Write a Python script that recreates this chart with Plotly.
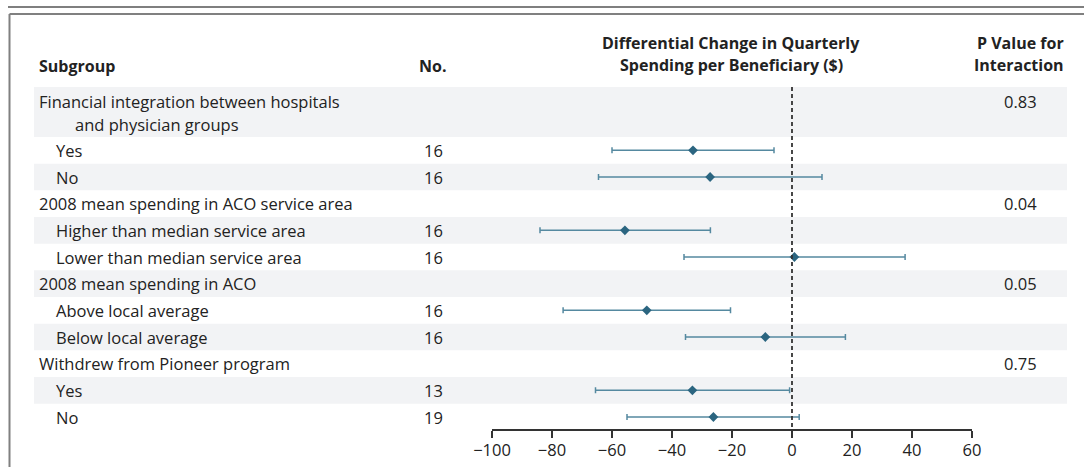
import plotly.graph_objects as go

# ---------------- data ----------------
row_labels = [
    "Financial integration between hospitals<br>    and physician groups",
    "Yes", "No",
    "2008 mean spending in ACO service area",
    "Higher than median service area", "Lower than median service area",
    "2008 mean spending in ACO",
    "Above local average", "Below local average",
    "Withdrew from Pioneer program",
    "Yes", "No",
]
row_is_header = [True, False, False, True, False, False, True, False, False, True, False, False]
row_n = ["", "16", "16", "", "16", "16", "", "16", "16", "", "13", "19"]
row_p = ["0.83", "", "", "0.04", "", "", "0.05", "", "", "0.75", "", ""]
estimate = [None, -33, -27.3, None, -55.7, 0.8, None, -48.4, -8.9, None, -33.2, -26.2]
ci_low = [None, -60, -64.5, None, -84, -36, None, -76.3, -35.5, None, -65.5, -55]
ci_high = [None, -6, 10, None, -27.2, 37.7, None, -20.5, 17.8, None, -0.8, 2.4]
x_ticks = [-100, -80, -60, -40, -20, 0, 20, 40, 60]

# ---------------- layout constants (pixels) ----------------
W, H = 1084, 467
TOP = 87.0
ROW_H = 80.0 / 3.0
FIRST_H = 50.0
TEXT_C = "#222222"
BAND_C = "#f2f3f5"
FONT = "Open Sans"
FS = 16.5
FS_BOLD = 16

tops, centers, heights = [], [], []
y = TOP
for i in range(len(row_labels)):
    h = FIRST_H if i == 0 else ROW_H
    tops.append(y)
    heights.append(h)
    centers.append(y + (14.0 if i == 0 else h / 2))
    y += h
AXIS_Y = y

def px(xp):
    return xp / W

fig = go.Figure()

pt_x, pt_y, e_plus, e_minus = [], [], [], []
for i, e in enumerate(estimate):
    if e is None:
        continue
    pt_x.append(e)
    pt_y.append(centers[i])
    e_plus.append(ci_high[i] - e)
    e_minus.append(e - ci_low[i])

fig.add_trace(go.Scatter(
    x=pt_x, y=pt_y, mode="markers",
    marker=dict(symbol="diamond", size=7.5, color="#2b6580"),
    error_x=dict(type="data", symmetric=False, array=e_plus, arrayminus=e_minus,
                 color="#5589a0", thickness=1.5, width=3),
    showlegend=False, hoverinfo="skip",
))

shapes = []
for i in range(len(row_labels)):
    if i % 2 == 0:
        shapes.append(dict(type="rect", xref="paper", yref="y",
                           x0=px(34), x1=px(1067), y0=tops[i], y1=tops[i] + heights[i],
                           fillcolor=BAND_C, line=dict(width=0), layer="below"))
shapes.append(dict(type="line", xref="x", yref="y", x0=0, x1=0, y0=TOP, y1=AXIS_Y,
                   line=dict(color="#333333", width=1.8, dash="4px,3px")))
shapes.append(dict(type="line", xref="paper", yref="y", x0=px(8), x1=1, y0=7, y1=7,
                   line=dict(color="#555555", width=1.6)))
shapes.append(dict(type="line", xref="paper", yref="y", x0=px(9.5), x1=1, y0=14, y1=14,
                   line=dict(color="#808080", width=2)))
shapes.append(dict(type="line", xref="paper", yref="y", x0=px(9.5), x1=px(9.5), y0=14, y1=H,
                   line=dict(color="#808080", width=2)))

ann = []
def text(x, y, s, anchor="left", bold=False, size=None):
    if size is None:
        size = FS_BOLD if bold else FS
    ann.append(dict(xref="paper", yref="y", x=px(x), y=y, text=(f"<b>{s}</b>" if bold else s),
                    showarrow=False, xanchor=anchor, yanchor="middle",
                    font=dict(family=FONT, size=size, color=TEXT_C), align="left"))

text(37, 66, "Subgroup", bold=True)
text(432, 66, "No.", anchor="center", bold=True)
text(731, 43, "Differential Change in Quarterly", anchor="center", bold=True)
text(731, 65, "Spending per Beneficiary ($)", anchor="center", bold=True)
text(1066, 43, "P Value for", anchor="right", bold=True)
text(1066, 65, "Interaction", anchor="right", bold=True)

for i, lab in enumerate(row_labels):
    if "<br>" in lab:
        first, second = lab.split("<br>")
        text(37, centers[i], first)
        text(73, centers[i] + 23, second.strip())
    else:
        text(37 if row_is_header[i] else 54, centers[i], lab)
    if row_n[i]:
        text(433, centers[i], row_n[i], anchor="center")
    if row_p[i]:
        text(1039, centers[i], row_p[i], anchor="right")

fig.update_layout(
    width=W, height=H,
    margin=dict(l=0, r=0, t=0, b=0, pad=0, autoexpand=False),
    paper_bgcolor="white", plot_bgcolor="rgba(0,0,0,0)",
    shapes=shapes, annotations=ann,
    xaxis=dict(domain=[px(492), px(972)], range=[-100, 60], tickvals=x_ticks,
               ticks="outside", ticklen=7, tickwidth=1.6, tickcolor="#333333",
               ticklabelstandoff=-2,
               showline=True, linecolor="#333333", linewidth=1.6, automargin=False,
               showgrid=False, zeroline=False, anchor="free", position=1 - AXIS_Y / H,
               tickfont=dict(family=FONT, size=FS, color=TEXT_C), fixedrange=True),
    yaxis=dict(domain=[0, 1], range=[H, 0], visible=False, showgrid=False, automargin=False,
               zeroline=False, fixedrange=True),
)

fig.write_html("out.html", config={"displayModeBar": False},
               post_script="document.body.style.margin='0';")
